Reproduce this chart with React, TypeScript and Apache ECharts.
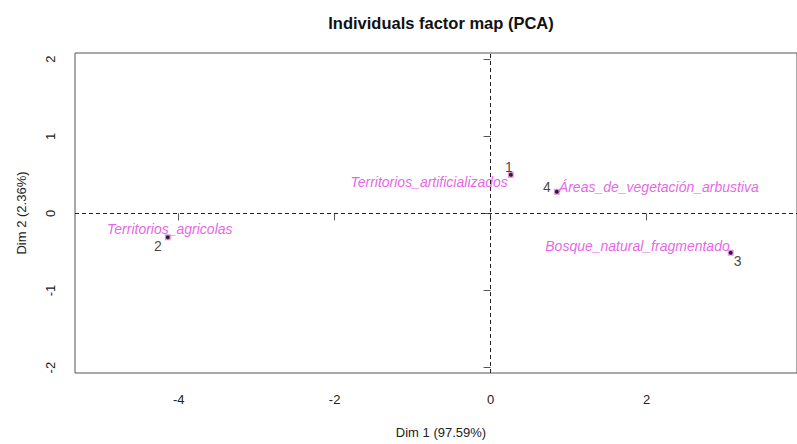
import React, { useEffect, useRef } from "react";
import * as echarts from "echarts";

const ids = ["1", "2", "3", "4"];
const names = [
  "Territorios_artificializados",
  "Territorios_agricolas",
  "Bosque_natural_fragmentado",
  "Áreas_de_vegetación_arbustiva",
];
const dim1 = [0.26, -4.14, 3.08, 0.85];
const dim2 = [0.5, -0.31, -0.51, 0.28];
const xTicks = [-4, -2, 0, 2];
const yTicks = [-2, -1, 0, 1, 2];

// label placement (pixels relative to each point)
const nameLayout = [
  { align: "right", offset: [-3, 7] },
  { align: "center", offset: [2, -8] },
  { align: "right", offset: [-1, -7] },
  { align: "left", offset: [2, -5] },
];
const idLayout = [
  { offset: [-2, -8] },
  { offset: [-10, 9] },
  { offset: [7, 8] },
  { offset: [-10, -5] },
];

const FONT = "'Liberation Sans', Arial, sans-serif";
const MAGENTA = "#e03ce0";

export default function App() {
  const ref = useRef<HTMLDivElement>(null);
  useEffect(() => {
    if (!ref.current) return;
    const chart = echarts.init(ref.current, undefined, { renderer: "svg" });
    const nameData = dim1.map((x, i) => ({
      value: [x, dim2[i]],
      name: names[i],
      label: {
        show: true,
        position: "inside",
        formatter: names[i],
        align: nameLayout[i].align,
        verticalAlign: "middle",
        offset: nameLayout[i].offset,
        color: MAGENTA,
        fontStyle: "italic",
        fontSize: 14,
        fontFamily: FONT,
      },
    }));
    const idData = dim1.map((x, i) => ({
      value: [x, dim2[i]],
      name: ids[i],
      label: {
        show: true,
        position: "inside",
        formatter: ids[i],
        align: "center",
        verticalAlign: "middle",
        offset: idLayout[i].offset,
        color: "#111",
        fontSize: 14,
        fontFamily: FONT,
      },
    }));
    chart.setOption({
      animation: false,
      backgroundColor: "#fff",
      title: {
        text: "Individuals factor map (PCA)",
        left: 436,
        textAlign: "center",
        top: 9,
        textStyle: { fontSize: 16.5, fontWeight: "bold", color: "#111", fontFamily: FONT },
      },
      grid: {
        left: 75,
        right: 0,
        top: 53,
        bottom: 66.5,
        show: true,
        borderColor: "#555",
        borderWidth: 1,
        backgroundColor: "transparent",
      },
      xAxis: {
        type: "value",
        min: -5.33,
        max: 3.93,
        name: "Dim 1 (97.59%)",
        nameLocation: "middle",
        nameGap: 53,
        nameTextStyle: { fontSize: 13, color: "#222", fontFamily: FONT, padding: [0, 0, 0, 10] },
        axisLine: { show: false },
        splitLine: { show: false },
        axisTick: {
          show: true,
          length: 7,
          customValues: xTicks,
          lineStyle: { color: "#555" },
        },
        axisLabel: {
          customValues: xTicks,
          margin: 20,
          fontSize: 13,
          color: "#222",
          fontFamily: FONT,
        },
      },
      yAxis: {
        type: "value",
        min: -2.07,
        max: 2.08,
        name: "Dim 2 (2.36%)",
        nameLocation: "middle",
        nameGap: 47,
        nameRotate: 90,
        nameTextStyle: { fontSize: 13, color: "#222", fontFamily: FONT },
        axisLine: { show: false },
        splitLine: { show: false },
        axisTick: {
          show: true,
          length: 7,
          customValues: yTicks,
          lineStyle: { color: "#555" },
        },
        axisLabel: {
          customValues: yTicks,
          rotate: 90,
          margin: 18,
          fontSize: 13,
          color: "#222",
          fontFamily: FONT,
        },
      },
      series: [
        {
          type: "scatter",
          symbol: "rect",
          symbolSize: 6,
          itemStyle: { color: "#e27ae2" },
          data: nameData,
          markLine: {
            silent: true,
            symbol: "none",
            label: { show: false },
            lineStyle: { color: "#222", type: [4, 3], width: 1 },
            data: [{ xAxis: 0 }, { yAxis: 0 }],
          },
        },
        {
          type: "scatter",
          symbol: "circle",
          symbolSize: 4,
          itemStyle: { color: "#000" },
          data: idData,
        },
      ],
    });
    return () => chart.dispose();
  }, []);
  return (
    <div
      ref={ref}
      style={{ position: "fixed", left: 0, top: 0, width: 797, height: 444 }}
    />
  );
}
